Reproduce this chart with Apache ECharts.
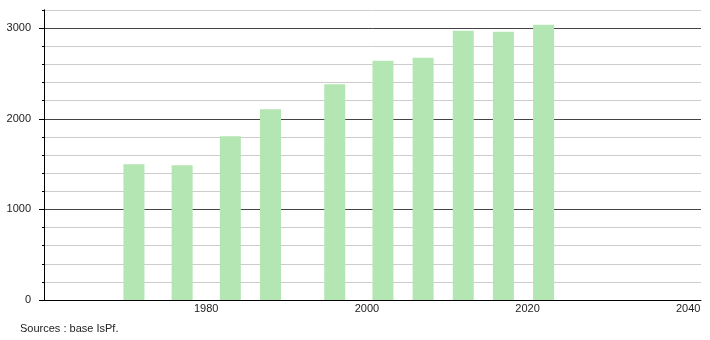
<!DOCTYPE html>
<html>
<head>
<meta charset="utf-8">
<script src="https://cdn.jsdelivr.net/npm/echarts@6/dist/echarts.min.js"></script>
<style>
html,body{margin:0;padding:0;background:#fff;}
#c{width:710px;height:340px;}
</style>
</head>
<body>
<div id="c"></div>
<script>
const years = [1971, 1977, 1983, 1988, 1996, 2002, 2007, 2012, 2017, 2022];
const population = [1497, 1486, 1807, 2106, 2380, 2639, 2672, 2971, 2960, 3038];
const yMajorTicks = [0, 1000, 2000, 3000];
const xTickLabels = [1980, 2000, 2020, 2040];
const sourceText = 'Sources : base IsPf.';

const chart = echarts.init(document.getElementById('c'), null, {renderer: 'canvas'});
const font = 'Liberation Sans, Arial, sans-serif';
const plain = v => String(v);
chart.setOption({
  animation: false,
  backgroundColor: '#fff',
  grid: {left: 44, right: 9, top: 10, bottom: 40, containLabel: false},
  xAxis: {
    type: 'value', min: 1959.8, max: 2041.6, interval: 20,
    axisLine: {show: true, lineStyle: {color: '#000', width: 1}},
    axisTick: {show: false},
    splitLine: {show: false},
    axisLabel: {customValues: xTickLabels, formatter: plain, color: '#222', fontSize: 11, fontFamily: font, margin: 3}
  },
  yAxis: [
    {
      type: 'value', min: 0, max: 3200, interval: 200,
      axisLine: {show: true, lineStyle: {color: '#000'}},
      axisTick: {show: true, length: 2, lineStyle: {color: '#000'}},
      axisLabel: {show: false},
      splitLine: {show: true, lineStyle: {color: ['#444', '#ccc', '#ccc', '#ccc', '#ccc'], width: 1}}
    },
    {
      type: 'value', min: 0, max: 3200, position: 'left',
      axisLine: {show: true, lineStyle: {color: '#000'}},
      axisTick: {show: true, length: 5, customValues: yMajorTicks, lineStyle: {color: '#000'}},
      axisLabel: {customValues: yMajorTicks, formatter: plain, color: '#222', fontSize: 11, fontFamily: font, margin: 13},
      splitLine: {show: false}
    }
  ],
  series: [{
    type: 'bar',
    yAxisIndex: 0,
    barWidth: 21,
    itemStyle: {color: '#b3e6b3'},
    data: years.map((y, i) => [y, population[i]])
  }],
  graphic: [{
    type: 'text', left: 20, top: 323,
    style: {text: sourceText, fill: '#222', font: '11px ' + font}
  }]
});
</script>
</body>
</html>
